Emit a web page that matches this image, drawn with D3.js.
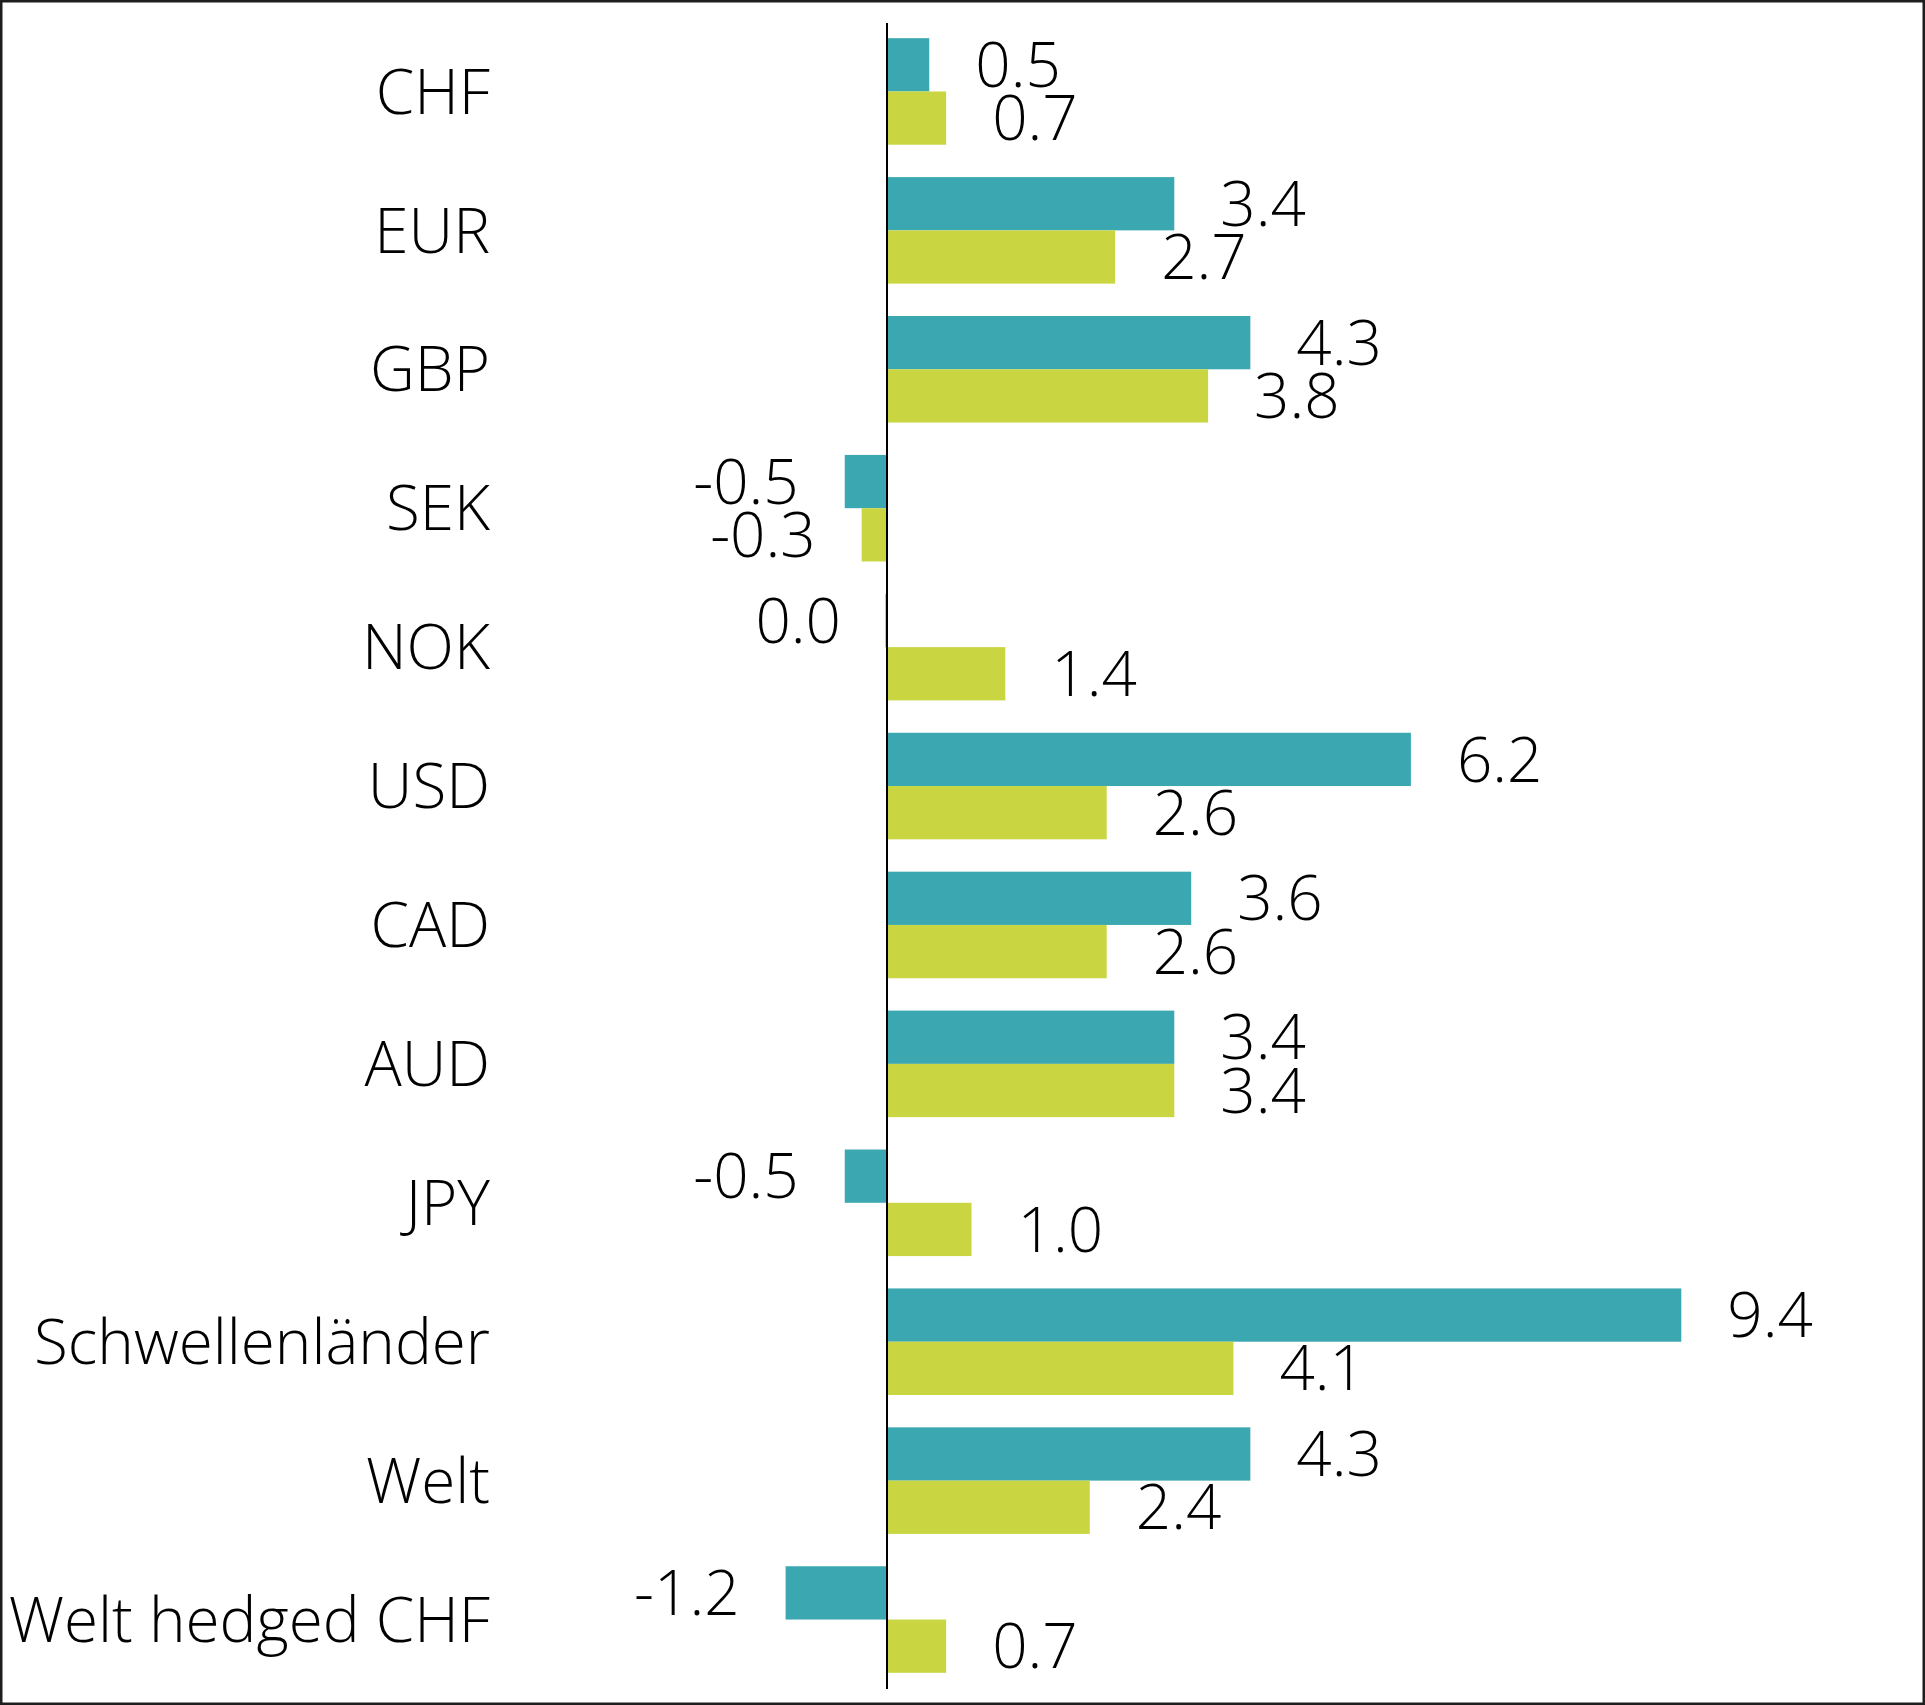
<!DOCTYPE html>
<html>
<head>
<meta charset="utf-8">
<script src="https://cdn.jsdelivr.net/npm/d3@7"></script>
<style>
  html, body { margin: 0; padding: 0; background: #fff; }
  svg { display: block; }
  text { font-family: "Open Sans", "Lato", sans-serif; font-weight: 340; font-stretch: 96%; fill: #000; }
</style>
</head>
<body>
<svg id="chart" width="1925" height="1705"></svg>
<script>
const categories = ["CHF", "EUR", "GBP", "SEK", "NOK", "USD", "CAD", "AUD", "JPY", "Schwellenländer", "Welt", "Welt hedged CHF"];
const seriesA = [0.5, 3.4, 4.3, -0.5, 0.0, 6.2, 3.6, 3.4, -0.5, 9.4, 4.3, -1.2];
const seriesB = [0.7, 2.7, 3.8, -0.3, 1.4, 2.6, 2.6, 3.4, 1.0, 4.1, 2.4, 0.7];
const seriesKeys = ["A", "B"];
const colors = { A: "#3BA8B1", B: "#C9D641" };

const W = 1925, H = 1705;
const svg = d3.select("#chart");

const zeroX = 887, pxPerUnit = 84.5;
const x = d3.scaleLinear().domain([-1.5, 10.5]).range([zeroX - 1.5 * pxPerUnit, zeroX + 10.5 * pxPerUnit]);
const y = d3.scaleBand().domain(categories).range([22, 1689]).paddingInner(0.233).paddingOuter(0.1165);
const ySub = d3.scaleBand().domain(seriesKeys).range([0, y.bandwidth()]);

const fontSize = 62;
const capHalf = fontSize * 0.714 / 2;
const fmt = v => d3.format(".1f")(v).replace("\u2212", "-");

// frame
svg.append("rect").attr("x", 1.25).attr("y", 1.25).attr("width", W - 2.5).attr("height", H - 2.5)
  .attr("fill", "none").attr("stroke", "#1e1e1e").attr("stroke-width", 2.5);

const rows = categories.map((c, i) => ({ cat: c, A: seriesA[i], B: seriesB[i] }));

const g = svg.append("g");
const grp = g.selectAll("g.row").data(rows).join("g").attr("class", "row")
  .attr("transform", d => `translate(0,${y(d.cat)})`);

grp.selectAll("rect").data(d => seriesKeys.map(k => ({ k, v: d[k] }))).join("rect")
  .attr("x", d => d.v === 0 ? x(0) - 1.5 : Math.min(x(0), x(d.v)))
  .attr("width", d => d.v === 0 ? 1.5 : Math.abs(x(d.v) - x(0)))
  .attr("y", d => ySub(d.k))
  .attr("height", ySub.bandwidth())
  .attr("fill", d => colors[d.k]);

const gap = 46;
grp.selectAll("text.val").data(d => seriesKeys.map(k => ({ k, v: d[k] }))).join("text")
  .attr("class", "val")
  .attr("x", d => d.v > 0 ? x(d.v) + gap : Math.min(x(d.v), x(0)) - gap)
  .attr("y", d => ySub(d.k) + ySub.bandwidth() / 2 + capHalf)
  .attr("text-anchor", d => d.v > 0 ? "start" : "end")
  .attr("font-size", fontSize)
  .text(d => fmt(d.v));

// category labels
svg.append("g").selectAll("text").data(categories).join("text")
  .attr("x", 490)
  .attr("y", d => y(d) + y.bandwidth() / 2 + capHalf)
  .attr("text-anchor", "end")
  .attr("font-size", fontSize)
  .text(d => d);

// zero axis line
svg.append("line").attr("x1", x(0)).attr("x2", x(0))
  .attr("y1", y.range()[0] + 1).attr("y2", y.range()[1])
  .attr("stroke", "#000").attr("stroke-width", 2);
</script>
</body>
</html>
